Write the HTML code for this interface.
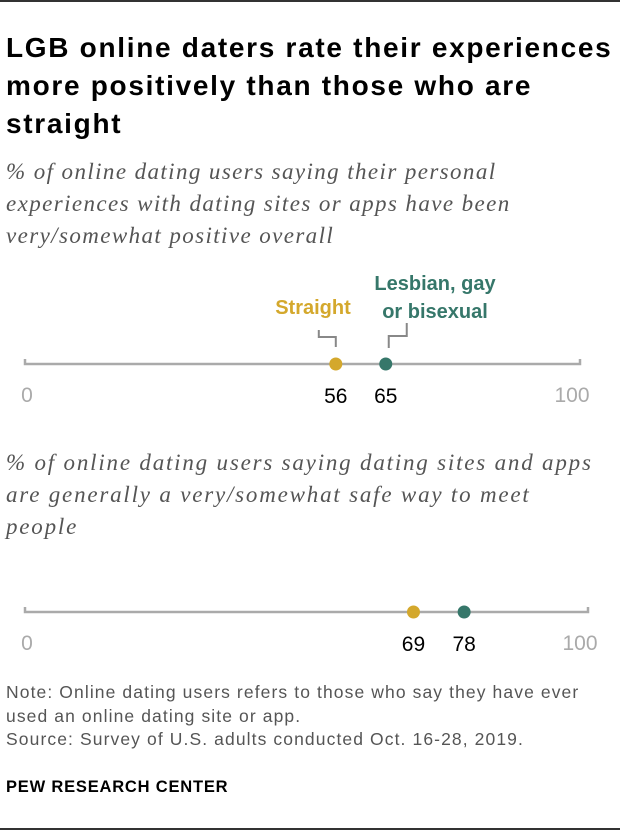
<!DOCTYPE html>
<html><head><meta charset="utf-8">
<style>
body{margin:0;background:#fff;width:620px;height:838px;position:relative;font-family:"Liberation Sans",sans-serif;overflow:hidden}
.t{position:absolute}
h1{position:absolute;left:6px;top:29px;margin:0;font-size:28px;letter-spacing:1.7px;line-height:38px;font-weight:bold;color:#000;white-space:nowrap}
.sub{position:absolute;left:6px;font-family:"Liberation Serif",serif;font-style:italic;font-size:23px;letter-spacing:1.4px;line-height:32px;color:#555;white-space:nowrap}
.note{position:absolute;left:6px;font-size:17.5px;letter-spacing:1.1px;line-height:23.5px;color:#555;white-space:nowrap}
</style></head><body>
<div style="position:absolute;left:0;top:0;width:620px;height:2px;background:#333"></div>
<h1>LGB online daters rate their experiences<br>more positively than those who are<br>straight</h1>
<div class="sub" style="top:156px">% of online dating users saying their personal<br>experiences with dating sites or apps have been<br>very/somewhat positive overall</div>
<div class="sub" style="top:447px;letter-spacing:1.8px">% of online dating users saying dating sites and apps<br>are generally a very/somewhat safe way to meet<br>people</div>
<svg width="620" height="838" style="position:absolute;left:0;top:0" id="svg"></svg>
<div class="note" style="top:681px">Note: Online dating users refers to those who say they have ever<br>used an online dating site or app.<br>Source: Survey of U.S. adults conducted Oct. 16-28, 2019.</div>
<div class="t" style="left:6px;top:778px;font-size:16.5px;letter-spacing:0.8px;font-weight:bold;color:#000">PEW RESEARCH CENTER</div>
<div style="position:absolute;left:0;top:828px;width:620px;height:2px;background:#333"></div>
<script>
const groups=["Straight","Lesbian, gay or bisexual"];
const colors=["#d4a82c","#36776a"];
const positiveValues=[56,65];
const safeValues=[69,78];
const ticks=[0,100];
const svg=document.getElementById('svg');
const NS="http://www.w3.org/2000/svg";
function mk(t,a){const e=document.createElementNS(NS,t);for(const k in a)e.setAttribute(k,a[k]);svg.appendChild(e);return e;}
function drawRow(vals,x0,x1,y,name){
  const sx=v=>x0+(x1-x0)*v/100;
  const l=mk('path',{d:`M${x0},${y-5}V${y}H${x1}V${y-5}`,stroke:'#aaa','stroke-width':2.5,fill:'none'});
  
  
  ticks.forEach(t=>{const tx=mk('text',{x:t===0?sx(t)+2:sx(t)-8,y:y+38,'font-size':21,fill:'#aaa','text-anchor':'middle','font-family':'Liberation Sans'});tx.textContent=t;
    
    });
  vals.forEach((v,i)=>{const c=mk('circle',{cx:sx(v),cy:y,r:6.5,fill:colors[i]});
    
    
    const tx=mk('text',{x:sx(v),y:y+39,'font-size':21,fill:'#000','text-anchor':'middle','font-family':'Liberation Sans'});tx.textContent=v;
    
    });
  return sx;
}
const s1=drawRow(positiveValues,25,580,364,'positive');
drawRow(safeValues,25,588,612,'safe');
function lab(txt,x,y,col){const t=mk('text',{x:x,y:y,'font-size':20,'font-weight':'bold',fill:col,'text-anchor':'middle','font-family':'Liberation Sans'});t.textContent=txt;
 
 }
lab('Straight',313,314,colors[0]);
lab('Lesbian, gay',435,290,colors[1]);
lab('or bisexual',435,318,colors[1]);
const x56=s1(positiveValues[0]),x65=s1(positiveValues[1]);
const a=mk('path',{d:`M${x56-17},330V337H${x56}V347`,stroke:'#888','stroke-width':2,fill:'none'});

const b=mk('path',{d:`M${x65+21},323V336H${x65+3}V348`,stroke:'#888','stroke-width':2,fill:'none'});

</script>
</body></html>
